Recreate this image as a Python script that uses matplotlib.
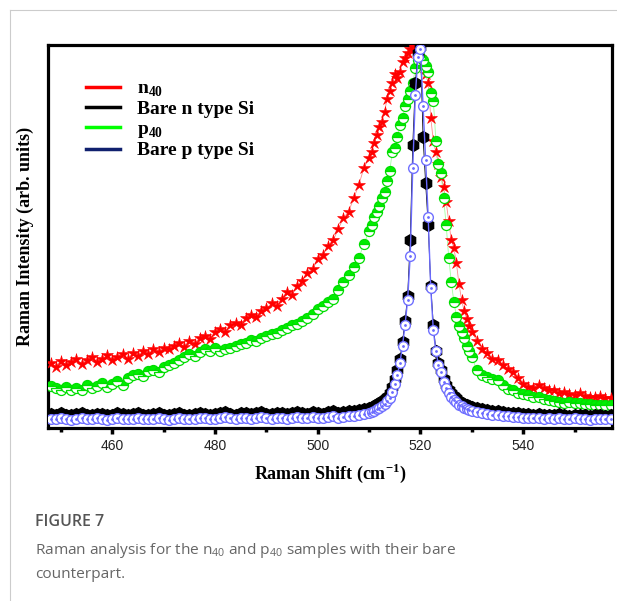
import matplotlib
matplotlib.use("Agg")
import matplotlib.pyplot as plt
from matplotlib.lines import Line2D

plt.rcParams['mathtext.fontset'] = 'custom'
plt.rcParams['mathtext.rm'] = 'Liberation Serif'
plt.rcParams['mathtext.bf'] = 'Liberation Serif:bold'
plt.rcParams['mathtext.sf'] = 'Open Sans'

# Raman shift grid (cm-1), finer around the Si peak
shift = [448, 449, 450, 451, 452, 453, 454, 455, 456, 457,
         458, 459, 460, 461, 462, 463, 464, 465, 466, 467,
         468, 469, 470, 471, 472, 473, 474, 475, 476, 477,
         478, 479, 480, 481, 482, 483, 484, 485, 486, 487,
         488, 489, 490, 491, 492, 493, 494, 495, 496, 497,
         498, 499, 500, 501, 502, 503, 504, 505, 506, 507,
         508, 509, 510, 510.5, 511, 511.5, 512, 512.5, 513, 513.5,
         514, 514.5, 515, 515.5, 516, 516.5, 517, 517.5, 518, 518.5,
         519, 519.5, 520, 520.5, 521, 521.5, 522, 522.5, 523, 523.5,
         524, 524.5, 525, 525.5, 526, 526.5, 527, 527.5, 528, 528.5,
         529, 529.5, 530, 531, 532, 533, 534, 535, 536, 537,
         538, 539, 540, 541, 542, 543, 544, 545, 546, 547,
         548, 549, 550, 551, 552, 553, 554, 555, 556, 557]

n40 = [0.170, 0.160, 0.175, 0.165, 0.172, 0.180, 0.168, 0.178, 0.185, 0.172,
       0.180, 0.190, 0.178, 0.186, 0.192, 0.180, 0.195, 0.188, 0.200, 0.192,
       0.205, 0.198, 0.210, 0.205, 0.215, 0.222, 0.212, 0.228, 0.220, 0.235,
       0.240, 0.232, 0.250, 0.258, 0.250, 0.268, 0.275, 0.270, 0.288, 0.295,
       0.290, 0.305, 0.312, 0.325, 0.318, 0.338, 0.355, 0.348, 0.370, 0.385,
       0.405, 0.415, 0.440, 0.452, 0.475, 0.490, 0.520, 0.548, 0.565, 0.600,
       0.635, 0.680, 0.705, 0.720, 0.745, 0.765, 0.785, 0.800, 0.825, 0.860,
       0.880, 0.900, 0.925, 0.915, 0.930, 0.955, 0.965, 0.980, 0.990, 1.000,
       0.995, 0.985, 0.970, 0.950, 0.925, 0.900, 0.810, 0.750, 0.720, 0.690,
       0.655, 0.630, 0.590, 0.540, 0.490, 0.470, 0.430, 0.375, 0.335, 0.305,
       0.285, 0.265, 0.250, 0.228, 0.205, 0.195, 0.180, 0.178, 0.165, 0.155,
       0.145, 0.130, 0.115, 0.108, 0.105, 0.112, 0.105, 0.100, 0.098, 0.092,
       0.095, 0.088, 0.086, 0.090, 0.084, 0.082, 0.080, 0.083, 0.078, 0.077]

bare_n = [0.036, 0.034, 0.038, 0.035, 0.033, 0.037, 0.039, 0.035, 0.034, 0.037,
          0.036, 0.033, 0.035, 0.038, 0.036, 0.034, 0.036, 0.038, 0.035, 0.034,
          0.037, 0.039, 0.035, 0.033, 0.036, 0.038, 0.035, 0.034, 0.037, 0.039,
          0.037, 0.035, 0.036, 0.039, 0.041, 0.037, 0.035, 0.038, 0.040, 0.036,
          0.038, 0.041, 0.037, 0.036, 0.040, 0.039, 0.036, 0.040, 0.042, 0.038,
          0.037, 0.041, 0.040, 0.037, 0.041, 0.043, 0.040, 0.042, 0.044, 0.045,
          0.047, 0.049, 0.052, 0.055, 0.058, 0.062, 0.066, 0.070, 0.075, 0.082,
          0.092, 0.106, 0.128, 0.150, 0.180, 0.225, 0.280, 0.345, 0.490, 0.740,
          0.900, 0.980, 0.995, 0.760, 0.640, 0.530, 0.370, 0.270, 0.200, 0.170,
          0.150, 0.128, 0.112, 0.100, 0.090, 0.083, 0.077, 0.071, 0.066, 0.063,
          0.060, 0.057, 0.055, 0.052, 0.049, 0.047, 0.045, 0.043, 0.042, 0.040,
          0.039, 0.038, 0.037, 0.036, 0.035, 0.037, 0.034, 0.035, 0.033, 0.036,
          0.034, 0.032, 0.035, 0.033, 0.034, 0.031, 0.033, 0.034, 0.032, 0.033]

p40 = [0.110, 0.105, 0.100, 0.108, 0.098, 0.105, 0.100, 0.112, 0.105, 0.110,
       0.118, 0.108, 0.115, 0.122, 0.112, 0.130, 0.138, 0.142, 0.135, 0.148,
       0.152, 0.145, 0.158, 0.165, 0.170, 0.178, 0.185, 0.192, 0.188, 0.198,
       0.205, 0.200, 0.208, 0.202, 0.205, 0.210, 0.215, 0.220, 0.222, 0.230,
       0.228, 0.235, 0.240, 0.245, 0.248, 0.255, 0.262, 0.268, 0.272, 0.280,
       0.288, 0.298, 0.310, 0.318, 0.330, 0.338, 0.360, 0.380, 0.400, 0.420,
       0.445, 0.480, 0.515, 0.530, 0.550, 0.565, 0.580, 0.600, 0.615, 0.645,
       0.670, 0.720, 0.730, 0.760, 0.790, 0.810, 0.840, 0.860, 0.880, 0.900,
       0.940, 0.960, 0.970, 0.960, 0.945, 0.930, 0.875, 0.855, 0.750, 0.690,
       0.665, 0.600, 0.530, 0.445, 0.380, 0.330, 0.290, 0.265, 0.250, 0.235,
       0.215, 0.200, 0.185, 0.150, 0.138, 0.132, 0.128, 0.125, 0.112, 0.102,
       0.098, 0.092, 0.088, 0.085, 0.082, 0.080, 0.076, 0.072, 0.070, 0.068,
       0.066, 0.067, 0.065, 0.064, 0.063, 0.062, 0.061, 0.060, 0.061, 0.060]

bare_p = [0.024, 0.022, 0.025, 0.023, 0.021, 0.024, 0.026, 0.023, 0.022, 0.025,
          0.024, 0.021, 0.023, 0.026, 0.024, 0.022, 0.023, 0.025, 0.024, 0.022,
          0.024, 0.026, 0.023, 0.021, 0.024, 0.025, 0.023, 0.022, 0.024, 0.027,
          0.025, 0.023, 0.024, 0.026, 0.028, 0.025, 0.023, 0.025, 0.027, 0.024,
          0.026, 0.028, 0.025, 0.024, 0.027, 0.026, 0.024, 0.027, 0.029, 0.026,
          0.025, 0.028, 0.027, 0.025, 0.028, 0.030, 0.027, 0.029, 0.031, 0.032,
          0.034, 0.036, 0.039, 0.042, 0.045, 0.049, 0.053, 0.057, 0.062, 0.069,
          0.079, 0.094, 0.116, 0.139, 0.170, 0.215, 0.270, 0.335, 0.450, 0.680,
          0.870, 0.970, 0.990, 0.840, 0.700, 0.550, 0.365, 0.255, 0.200, 0.165,
          0.145, 0.120, 0.103, 0.090, 0.080, 0.073, 0.067, 0.061, 0.056, 0.053,
          0.050, 0.047, 0.045, 0.042, 0.039, 0.037, 0.035, 0.033, 0.032, 0.030,
          0.029, 0.028, 0.027, 0.026, 0.025, 0.027, 0.024, 0.025, 0.023, 0.026,
          0.024, 0.022, 0.025, 0.023, 0.024, 0.021, 0.023, 0.024, 0.022, 0.023]

legend_labels = [r'n$_{\mathbf{40}}$', 'Bare n type Si', r'p$_{\mathbf{40}}$', 'Bare p type Si']
legend_colors = ['#ff0000', '#000000', '#00ff00', '#10206e']

fig = plt.figure(figsize=(6.17, 6.01), dpi=100)
ax = fig.add_axes([0.078, 0.288, 0.914, 0.637])

ax.plot(shift, n40, color='#ff4040', lw=0.6, alpha=0.6, zorder=2)
ax.plot(shift, n40, ls='none', marker='*', ms=9, mfc='#ff0000', mec='#ff0000', mew=0.4, zorder=3)

ax.plot(shift, p40, color='#60ff60', lw=0.6, alpha=0.6, zorder=2)
ax.plot(shift, p40, ls='none', marker='o', ms=7.2, fillstyle='top', mfc='#00ee00',
        markerfacecoloralt='white', mec='#00dd00', mew=0.9, zorder=3)

ax.plot(shift, bare_n, color='black', lw=0.6, marker='h', ms=8.5, mfc='black', mec='black', zorder=4)

ax.plot(shift, bare_p, color='#6a6aff', lw=1.0, marker='o', ms=7, mfc='white', mec='#7070ff', mew=1.0, zorder=5)
ax.plot(shift, bare_p, ls='none', marker='.', ms=2, color='#6a6aff', zorder=6)

ax.set_xlim(447.5, 557.3)
ax.set_ylim(0, 1)
ax.set_xticks([460, 480, 500, 520, 540])
ax.set_xticks([450, 470, 490, 510, 530, 550], minor=True)
ax.tick_params(axis='x', which='both', direction='out', width=2.5, labelsize=10, pad=4)
ax.tick_params(axis='x', which='major', length=4)
ax.tick_params(axis='x', which='minor', length=3)
ax.set_yticks([])
for lab in ax.get_xticklabels():
    lab.set_fontfamily('Liberation Sans')
    lab.set_color('#222222')
for sp in ax.spines.values():
    sp.set_linewidth(2.3)

ax.set_xlabel(r'Raman Shift (cm$^{\mathbf{-1}}$)', fontfamily='Liberation Serif',
              fontweight='bold', fontsize=13, labelpad=6)
ax.set_ylabel('Raman Intensity (arb. units)', fontfamily='Liberation Serif',
              fontweight='bold', fontsize=13, labelpad=10)

handles = [Line2D([], [], color=c, lw=2.5) for c in legend_colors]
ax.legend(handles, legend_labels, loc='upper left', bbox_to_anchor=(0.036, 0.955),
          frameon=False, handlelength=1.75, handletextpad=0.9, labelspacing=0.1,
          prop={'family': 'Liberation Serif', 'weight': 'bold', 'size': 14})

# page frame lines
fig.add_artist(Line2D([0.0154, 0.0154], [0, 0.984], color='#cccccc', lw=0.8))
fig.add_artist(Line2D([0.0154, 1.0], [0.984, 0.984], color='#cccccc', lw=0.8))

fig.text(35 / 617, 1 - 522 / 601, 'FIGURE 7', fontfamily='Open Sans', fontweight='semibold',
         fontsize=11.5, color='#555555', va='center')
fig.text(35 / 617, 1 - 550 / 601,
         r'Raman analysis for the n$_{\mathsf{40}}$ and p$_{\mathsf{40}}$ samples with their bare',
         fontfamily='Open Sans', fontsize=11.1, color='#666666', va='center')
fig.text(35 / 617, 1 - 575 / 601, 'counterpart.', fontfamily='Open Sans', fontsize=11.1,
         color='#666666', va='center')

fig.savefig('out.png', dpi=100)
